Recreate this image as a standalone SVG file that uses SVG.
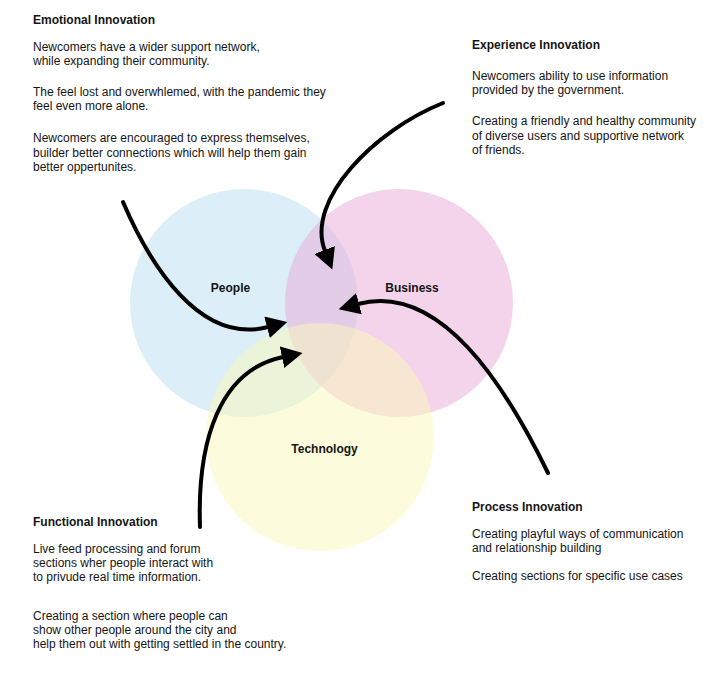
<svg xmlns="http://www.w3.org/2000/svg" width="710" height="678" viewBox="0 0 710 678">
<style>
text{font-family:"Liberation Sans",Arial,sans-serif;font-size:12px;fill:#151515}
.h{font-weight:bold}
.lbl{font-weight:bold;text-anchor:middle}
.c{opacity:0.5}
.arrow{fill:none;stroke:#000;stroke-width:4;stroke-linecap:round}
</style>
<defs>
<marker id="ah" markerUnits="userSpaceOnUse" viewBox="0 -11 21 22" refX="1" refY="0" markerWidth="21" markerHeight="22" orient="auto">
<path d="M0,-11 L21,0 L0,11 Z" fill="#000"/>
</marker>
</defs>
<rect width="710" height="678" fill="#fff"/>
<g id="people">
<circle class="c" cx="244" cy="303" r="114" fill="#b9ddef"/>
</g>
<g id="business">
<circle class="c" cx="399" cy="303" r="114" fill="#e9a9d7"/>
</g>
<g id="technology">
<circle class="c" cx="320" cy="437" r="114" fill="#f9f9b9"/>
</g>
<g id="circle-labels">
<text class="lbl" x="230.5" y="292">People</text>
<text class="lbl" x="412" y="292">Business</text>
<text class="lbl" x="324.5" y="453">Technology</text>
</g>
<g id="connectors">
<path class="arrow" marker-end="url(#ah)" d="M123,202 C150,265 200,345 268,327"/>
<path class="arrow" marker-end="url(#ah)" d="M443,103 C375,130 305,200 325,251"/>
<path class="arrow" marker-end="url(#ah)" d="M548,473 C505,385 440,282 358,304"/>
<path class="arrow" marker-end="url(#ah)" d="M200,527 C197,440 220,370 283,357"/>
</g>
<g id="emotional">
<text class="h" x="33" y="24">Emotional Innovation</text>
<text x="33" y="51">Newcomers have a wider support network,</text>
<text x="33" y="65">while expanding their community.</text>
<text x="33" y="96">The feel lost and overwhlemed, with the pandemic they</text>
<text x="33" y="110">feel even more alone.</text>
<text x="33" y="142">Newcomers are encouraged to express themselves,</text>
<text x="33" y="156.5">builder better connections which will help them gain</text>
<text x="33" y="171">better oppertunites.</text>
</g>
<g id="experience">
<text class="h" x="472" y="49">Experience Innovation</text>
<text x="472" y="80">Newcomers ability to use information</text>
<text x="472" y="94">provided by the government.</text>
<text x="472" y="125">Creating a friendly and healthy community</text>
<text x="472" y="139.5">of diverse users and supportive network</text>
<text x="472" y="154">of friends.</text>
</g>
<g id="functional">
<text class="h" x="33" y="526">Functional Innovation</text>
<text x="33" y="553">Live feed processing and forum</text>
<text x="33" y="567">sections wher people interact with</text>
<text x="33" y="581">to privude real time information.</text>
<text x="33" y="620">Creating a section where people can</text>
<text x="33" y="634">show other people around the city and</text>
<text x="33" y="648">help them out with getting settled in the country.</text>
</g>
<g id="process">
<text class="h" x="472" y="511">Process Innovation</text>
<text x="472" y="538">Creating playful ways of communication</text>
<text x="472" y="552">and relationship building</text>
<text x="472" y="580">Creating sections for specific use cases</text>
</g>
</svg>
